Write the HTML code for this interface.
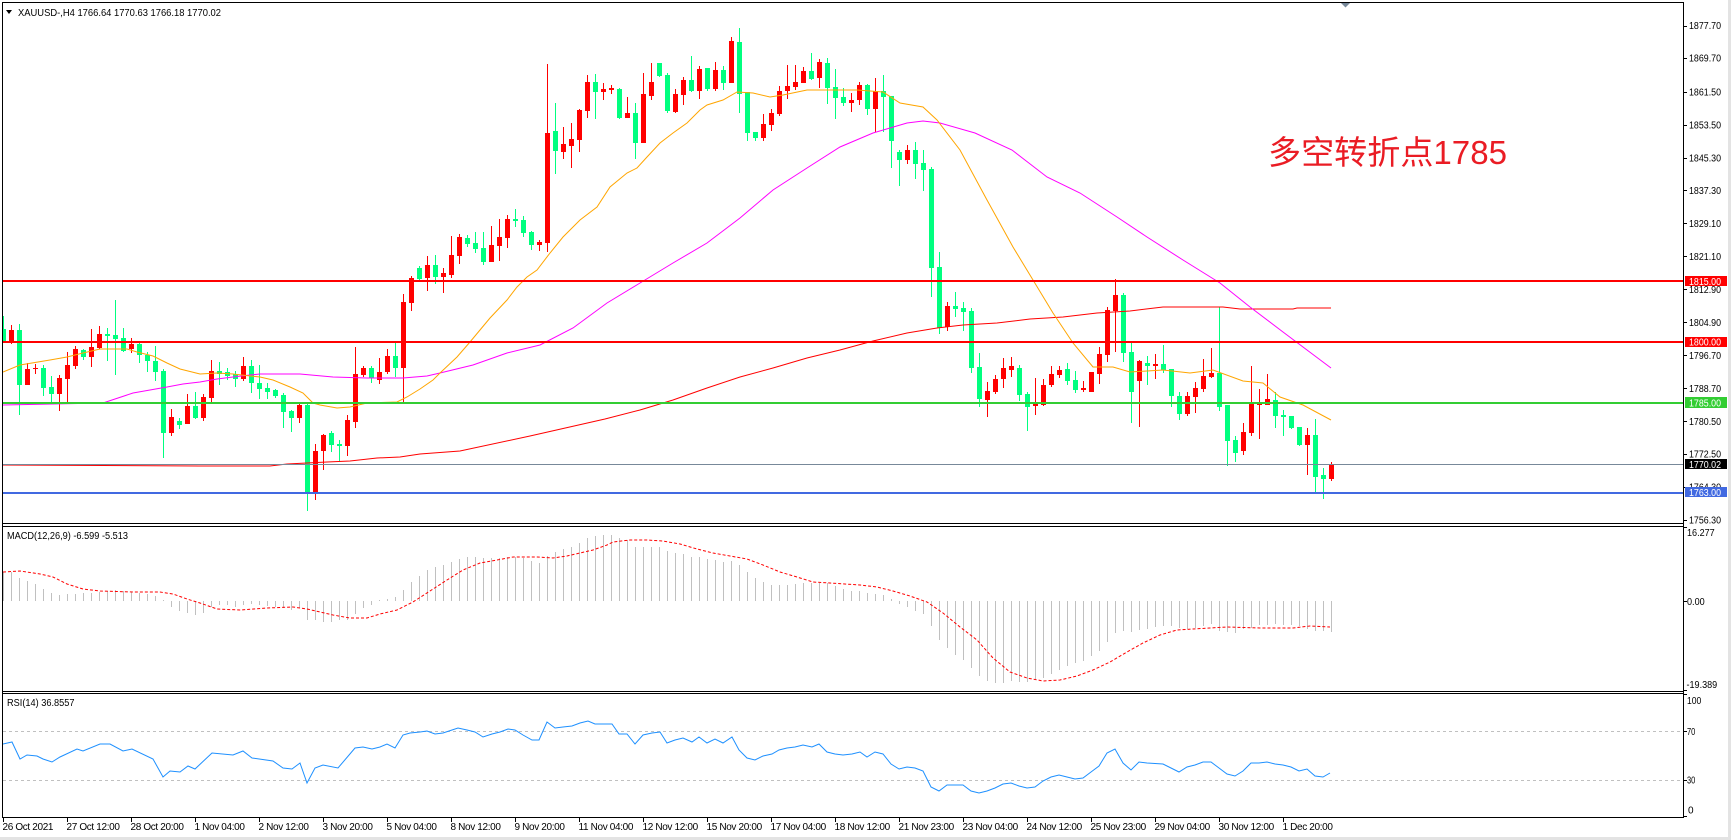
<!DOCTYPE html>
<html><head><meta charset="utf-8"><style>
html,body{margin:0;padding:0;background:#fff;}
svg{display:block;}
text{font-family:"Liberation Sans",sans-serif;}
</style></head><body>
<svg width="1731" height="840" viewBox="0 0 1731 840" xmlns="http://www.w3.org/2000/svg">
<defs>
<clipPath id="cm"><rect x="3" y="3" width="1680" height="520"/></clipPath>
<clipPath id="cd"><rect x="3" y="527" width="1680" height="164"/></clipPath>
<clipPath id="cr"><rect x="3" y="694" width="1680" height="123"/></clipPath>
</defs>
<rect x="0" y="0" width="1731" height="840" fill="#fff"/>
<rect x="0" y="837" width="1731" height="3" fill="#e3e3e3"/>
<rect x="1728" y="0" width="3" height="840" fill="#e3e3e3"/>

<g clip-path="url(#cm)">
<path shape-rendering="crispEdges" fill="#00ff7f" d="M1 329h5v12h-5zM3 316h1v26h-1zM17 330h5v55h-5zM19 324h1v91h-1zM41 368h5v20h-5zM43 365h1v31h-1zM49 387h5v7h-5zM51 376h1v27h-1zM81 350h5v7h-5zM83 349h1v11h-1zM105 334h5v2h-5zM107 328h1v33h-1zM113 335h5v4h-5zM115 300h1v75h-1zM121 338h5v13h-5zM123 328h1v24h-1zM137 344h5v11h-5zM139 343h1v20h-1zM145 355h5v6h-5zM147 352h1v20h-1zM153 361h5v11h-5zM155 346h1v35h-1zM161 371h5v62h-5zM163 369h1v89h-1zM177 421h5v4h-5zM179 418h1v11h-1zM193 406h5v12h-5zM195 392h1v27h-1zM217 371h5v3h-5zM219 362h1v23h-1zM225 372h5v4h-5zM227 368h1v12h-1zM233 374h5v5h-5zM235 371h1v16h-1zM249 366h5v17h-5zM251 360h1v33h-1zM257 383h5v6h-5zM259 365h1v34h-1zM265 388h5v4h-5zM267 383h1v16h-1zM273 390h5v6h-5zM275 389h1v9h-1zM281 395h5v17h-5zM283 393h1v35h-1zM289 411h5v7h-5zM291 410h1v22h-1zM305 405h5v87h-5zM307 402h1v109h-1zM329 433h5v12h-5zM331 431h1v21h-1zM337 444h5v2h-5zM339 440h1v22h-1zM369 368h5v10h-5zM371 366h1v17h-1zM393 356h5v12h-5zM395 343h1v34h-1zM417 268h5v11h-5zM419 266h1v14h-1zM433 265h5v12h-5zM435 255h1v29h-1zM465 238h5v6h-5zM467 235h1v12h-1zM473 243h5v6h-5zM475 232h1v21h-1zM481 248h5v14h-5zM483 232h1v33h-1zM513 219h5v2h-5zM515 209h1v18h-1zM521 220h5v13h-5zM523 216h1v21h-1zM529 232h5v13h-5zM531 231h1v19h-1zM553 131h5v20h-5zM555 103h1v71h-1zM593 82h5v10h-5zM595 74h1v45h-1zM617 89h5v29h-5zM619 88h1v31h-1zM633 113h5v30h-5zM635 103h1v56h-1zM657 63h5v13h-5zM659 63h1v14h-1zM665 75h5v36h-5zM667 73h1v40h-1zM689 80h5v11h-5zM691 56h1v36h-1zM705 68h5v21h-5zM707 68h1v23h-1zM721 70h5v13h-5zM723 66h1v24h-1zM737 42h5v52h-5zM739 28h1v85h-1zM745 92h5v41h-5zM747 92h1v49h-1zM753 132h5v6h-5zM755 132h1v9h-1zM809 71h5v8h-5zM811 53h1v27h-1zM825 63h5v25h-5zM827 58h1v46h-1zM833 87h5v11h-5zM835 69h1v50h-1zM841 97h5v6h-5zM843 88h1v18h-1zM865 85h5v24h-5zM867 84h1v31h-1zM881 91h5v6h-5zM883 75h1v57h-1zM889 96h5v45h-5zM891 96h1v72h-1zM897 152h5v8h-5zM899 150h1v36h-1zM913 150h5v14h-5zM915 142h1v37h-1zM921 163h5v7h-5zM923 150h1v41h-1zM929 169h5v99h-5zM931 167h1v130h-1zM937 267h5v61h-5zM939 252h1v82h-1zM953 306h5v3h-5zM955 292h1v25h-1zM961 308h5v4h-5zM963 302h1v29h-1zM969 311h5v57h-5zM971 308h1v65h-1zM977 367h5v32h-5zM979 353h1v54h-1zM1017 368h5v27h-5zM1019 365h1v36h-1zM1025 394h5v13h-5zM1027 392h1v39h-1zM1065 369h5v12h-5zM1067 363h1v22h-1zM1073 380h5v10h-5zM1075 371h1v22h-1zM1121 295h5v58h-5zM1123 293h1v69h-1zM1129 352h5v40h-5zM1131 343h1v80h-1zM1145 363h5v3h-5zM1147 356h1v29h-1zM1161 364h5v6h-5zM1163 345h1v28h-1zM1169 369h5v27h-5zM1171 369h1v38h-1zM1177 396h5v18h-5zM1179 392h1v28h-1zM1217 373h5v34h-5zM1219 307h1v104h-1zM1225 405h5v36h-5zM1227 405h1v61h-1zM1233 440h5v13h-5zM1235 436h1v26h-1zM1273 400h5v16h-5zM1275 392h1v36h-1zM1281 415h5v2h-5zM1283 410h1v26h-1zM1289 416h5v12h-5zM1291 416h1v13h-1zM1297 427h5v18h-5zM1299 427h1v19h-1zM1313 435h5v42h-5zM1315 419h1v73h-1zM1321 475h5v4h-5zM1323 468h1v31h-1z"/>
<path shape-rendering="crispEdges" fill="#ff0000" d="M9 330h5v13h-5zM11 325h1v19h-1zM25 369h5v16h-5zM27 363h1v22h-1zM33 368h5v1h-5zM35 364h1v10h-1zM57 378h5v16h-5zM59 375h1v36h-1zM65 365h5v14h-5zM67 352h1v52h-1zM73 349h5v17h-5zM75 346h1v23h-1zM89 347h5v10h-5zM91 329h1v38h-1zM97 334h5v14h-5zM99 326h1v23h-1zM129 344h5v5h-5zM131 338h1v15h-1zM169 417h5v16h-5zM171 409h1v27h-1zM185 406h5v18h-5zM187 394h1v30h-1zM201 397h5v21h-5zM203 394h1v27h-1zM209 371h5v27h-5zM211 360h1v42h-1zM241 366h5v13h-5zM243 357h1v24h-1zM297 405h5v13h-5zM299 402h1v21h-1zM313 451h5v41h-5zM315 444h1v56h-1zM321 435h5v16h-5zM323 434h1v36h-1zM345 420h5v26h-5zM347 415h1v41h-1zM353 374h5v48h-5zM355 347h1v81h-1zM361 368h5v7h-5zM363 366h1v11h-1zM377 372h5v8h-5zM379 358h1v26h-1zM385 356h5v16h-5zM387 349h1v25h-1zM401 302h5v66h-5zM403 294h1v108h-1zM409 278h5v25h-5zM411 276h1v35h-1zM425 265h5v13h-5zM427 256h1v35h-1zM441 273h5v4h-5zM443 268h1v25h-1zM449 255h5v20h-5zM451 236h1v42h-1zM457 237h5v19h-5zM459 234h1v30h-1zM489 245h5v17h-5zM491 226h1v36h-1zM497 237h5v9h-5zM499 219h1v42h-1zM505 219h5v19h-5zM507 215h1v33h-1zM537 242h5v3h-5zM539 240h1v11h-1zM545 133h5v110h-5zM547 64h1v188h-1zM561 144h5v8h-5zM563 127h1v32h-1zM569 139h5v7h-5zM571 123h1v45h-1zM577 110h5v30h-5zM579 109h1v43h-1zM585 82h5v29h-5zM587 75h1v43h-1zM601 89h5v3h-5zM603 83h1v17h-1zM609 88h5v2h-5zM611 85h1v9h-1zM625 113h5v5h-5zM627 97h1v21h-1zM641 94h5v49h-5zM643 73h1v70h-1zM649 82h5v14h-5zM651 63h1v37h-1zM673 94h5v18h-5zM675 89h1v24h-1zM681 80h5v15h-5zM683 77h1v28h-1zM697 69h5v22h-5zM699 66h1v33h-1zM713 70h5v19h-5zM715 62h1v29h-1zM729 41h5v42h-5zM731 37h1v46h-1zM761 124h5v14h-5zM763 114h1v27h-1zM769 113h5v12h-5zM771 109h1v22h-1zM777 91h5v23h-5zM779 86h1v30h-1zM785 86h5v5h-5zM787 65h1v34h-1zM793 82h5v5h-5zM795 65h1v25h-1zM801 71h5v12h-5zM803 67h1v16h-1zM817 62h5v16h-5zM819 59h1v29h-1zM849 100h5v3h-5zM851 93h1v19h-1zM857 85h5v15h-5zM859 82h1v23h-1zM873 91h5v18h-5zM875 78h1v54h-1zM905 150h5v10h-5zM907 145h1v19h-1zM945 306h5v21h-5zM947 302h1v29h-1zM985 391h5v9h-5zM987 382h1v35h-1zM993 379h5v13h-5zM995 375h1v19h-1zM1001 368h5v11h-5zM1003 358h1v30h-1zM1009 366h5v4h-5zM1011 357h1v20h-1zM1033 404h5v2h-5zM1035 378h1v37h-1zM1041 385h5v20h-5zM1043 379h1v27h-1zM1049 374h5v11h-5zM1051 366h1v21h-1zM1057 370h5v5h-5zM1059 366h1v12h-1zM1081 388h5v2h-5zM1083 381h1v11h-1zM1089 372h5v20h-5zM1091 372h1v20h-1zM1097 354h5v20h-5zM1099 347h1v37h-1zM1105 310h5v45h-5zM1107 307h1v55h-1zM1113 295h5v16h-5zM1115 279h1v73h-1zM1137 361h5v20h-5zM1139 360h1v67h-1zM1153 364h5v2h-5zM1155 354h1v25h-1zM1185 396h5v18h-5zM1187 392h1v24h-1zM1193 388h5v9h-5zM1195 382h1v31h-1zM1201 376h5v13h-5zM1203 359h1v33h-1zM1209 373h5v4h-5zM1211 348h1v30h-1zM1241 432h5v19h-5zM1243 423h1v32h-1zM1249 404h5v29h-5zM1251 366h1v70h-1zM1257 404h5v1h-5zM1259 389h1v50h-1zM1265 399h5v6h-5zM1267 374h1v31h-1zM1305 435h5v10h-5zM1307 428h1v47h-1zM1329 464h5v15h-5zM1331 462h1v19h-1z"/>

<polyline fill="none" stroke="#ff0000" stroke-width="1" points="2,465 200,466 270,466 287,464 327,462 350,461 377,458 400,457 420,454 460,451 530,436 605,419 640,410 673,400 707,388 740,377 773,368 807,358 840,350 873,341 907,333 937,328 963,325 997,323 1030,319 1063,317 1097,313 1130,311 1163,307 1223,307 1240,309 1293,309 1297,308 1331,308"/>
<polyline fill="none" stroke="#ff00ff" stroke-width="1" points="2,405 103,403 133,393 150,390 167,387 183,384 200,382 217,379 233,377 250,375 260,374 300,374 333,377 367,378 403,378 427,376 440,373 473,365 507,353 540,345 573,328 607,303 640,283 673,263 707,243 740,218 773,190 807,168 840,147 873,133 907,123 923,121 940,123 975,133 1012,150 1047,177 1080,193 1117,217 1147,237 1183,260 1220,283 1250,307 1283,332 1331,368"/>
<polyline fill="none" stroke="#ffa500" stroke-width="1" points="3,372 20,365 50,360 67,357 83,353 100,349 127,349 137,352 153,356 167,363 180,369 200,374 217,373 233,374 260,377 273,380 290,387 303,393 313,403 320,405 337,408 350,407 367,403 397,402 407,397 420,389 433,380 440,373 457,357 470,342 480,330 490,318 507,300 517,287 527,277 537,270 550,253 563,237 580,220 597,207 610,187 627,173 637,168 647,157 660,143 673,133 687,123 700,110 707,105 723,100 737,92 753,93 770,97 783,95 807,90 857,90 883,92 900,103 923,107 937,120 960,150 987,200 1013,247 1033,280 1053,313 1073,343 1093,367 1113,367 1130,372 1163,370 1190,373 1213,370 1243,381 1263,383 1280,397 1303,405 1331,420"/>

<g shape-rendering="crispEdges">
<rect x="2" y="280" width="1682" height="2" fill="#ff0000"/>
<rect x="2" y="341" width="1682" height="2" fill="#ff0000"/>
<rect x="2" y="402" width="1682" height="2" fill="#32cd32"/>
<rect x="2" y="464" width="1682" height="1" fill="#778899"/>
<rect x="2" y="492" width="1682" height="2" fill="#4169e1"/>
</g>
</g>

<text x="1268" y="164" font-size="33" fill="#ea1c24" textLength="239" lengthAdjust="spacingAndGlyphs" style="font-family:'Liberation Sans','Noto Sans CJK SC',sans-serif">多空转折点1785</text>

<polygon points="6,10 12,10 9,14" fill="#000"/>
<text x="18" y="16" font-size="10.5" fill="#000" textLength="203" lengthAdjust="spacingAndGlyphs">XAUUSD-,H4  1766.64 1770.63 1766.18 1770.02</text>
<polygon points="1341,3 1350,3 1345.5,7.5" fill="#778899"/>

<!-- MACD -->
<g clip-path="url(#cd)">
<path fill="none" stroke="#c0c0c0" stroke-width="1" shape-rendering="crispEdges" d="M3.5 572V601M11.5 572V601M19.5 578V601M27.5 581V601M35.5 584V601M43.5 589V601M51.5 593V601M59.5 595V601M67.5 594V601M75.5 594V601M83.5 593V601M91.5 593V601M99.5 592V601M107.5 591V601M115.5 590V601M123.5 591V601M131.5 592V601M139.5 593V601M147.5 594V601M155.5 596V601M163.5 600V601M171.5 607V601M179.5 611V601M187.5 613V601M195.5 615V601M203.5 613V601M211.5 607V601M219.5 605V601M227.5 605V601M235.5 607V601M243.5 605V601M251.5 604V601M259.5 605V601M267.5 606V601M275.5 607V601M283.5 608V601M291.5 610V601M299.5 608V601M307.5 620V601M315.5 620V601M323.5 622V601M331.5 622V601M339.5 620V601M347.5 620V601M355.5 614V601M363.5 608V601M371.5 605V601M379.5 600V601M387.5 599V601M395.5 597V601M403.5 590V601M411.5 582V601M419.5 576V601M427.5 570V601M435.5 567V601M443.5 565V601M451.5 562V601M459.5 559V601M467.5 557V601M475.5 557V601M483.5 558V601M491.5 558V601M499.5 558V601M507.5 557V601M515.5 557V601M523.5 558V601M531.5 561V601M539.5 563V601M547.5 556V601M555.5 552V601M563.5 549V601M571.5 547V601M579.5 543V601M587.5 538V601M595.5 536V601M603.5 535V601M611.5 535V601M619.5 538V601M627.5 540V601M635.5 547V601M643.5 547V601M651.5 547V601M659.5 547V601M667.5 551V601M675.5 553V601M683.5 554V601M691.5 557V601M699.5 557V601M707.5 559V601M715.5 560V601M723.5 562V601M731.5 561V601M739.5 565V601M747.5 572V601M755.5 578V601M763.5 582V601M771.5 585V601M779.5 585V601M787.5 585V601M795.5 584V601M803.5 583V601M811.5 583V601M819.5 583V601M827.5 583V601M835.5 586V601M843.5 589V601M851.5 591V601M859.5 591V601M867.5 593V601M875.5 594V601M883.5 595V601M891.5 599V601M899.5 604V601M907.5 607V601M915.5 611V601M923.5 614V601M931.5 626V601M939.5 640V601M947.5 648V601M955.5 655V601M963.5 660V601M971.5 668V601M979.5 676V601M987.5 681V601M995.5 683V601M1003.5 683V601M1011.5 681V601M1019.5 682V601M1027.5 682V601M1035.5 680V601M1043.5 678V601M1051.5 674V601M1059.5 670V601M1067.5 666V601M1075.5 663V601M1083.5 661V601M1091.5 656V601M1099.5 651V601M1107.5 642V601M1115.5 633V601M1123.5 631V601M1131.5 632V601M1139.5 630V601M1147.5 629V601M1155.5 627V601M1163.5 626V601M1171.5 626V601M1179.5 628V601M1187.5 629V601M1195.5 628V601M1203.5 626V601M1211.5 624V601M1219.5 631V601M1227.5 632V601M1235.5 633V601M1243.5 629V601M1251.5 628V601M1259.5 625V601M1267.5 625V601M1275.5 624V601M1283.5 625V601M1291.5 625V601M1299.5 626V601M1307.5 629V601M1315.5 631V601M1323.5 631V601M1331.5 632V601"/>
<polyline fill="none" stroke="#ff0000" stroke-width="1" stroke-dasharray="3,2" points="3,572 20,571 40,574 53,577 67,584 83,589 100,591 133,592 160,592 173,594 187,599 200,603 217,609 240,610 267,608 293,607 307,609 320,612 333,615 350,618 367,618 380,614 397,610 413,602 430,591 447,580 463,570 480,563 497,560 513,557 537,557 553,558 567,556 580,553 593,550 607,545 613,542 630,540 647,540 663,541 680,544 697,549 713,553 730,556 747,559 763,565 780,572 797,577 813,582 830,583 860,585 877,587 893,591 910,596 927,602 943,613 960,627 977,640 993,658 1010,672 1027,678 1043,681 1060,680 1077,676 1093,670 1110,662 1127,652 1143,643 1160,635 1177,630 1193,629 1210,628 1227,627 1260,628 1293,628 1310,626 1330,627"/>
</g>
<text x="7" y="539" font-size="10" fill="#000" textLength="121" lengthAdjust="spacingAndGlyphs">MACD(12,26,9) -6.599 -5.513</text>

<!-- RSI -->
<g clip-path="url(#cr)">
<line x1="3" y1="731.5" x2="1683" y2="731.5" stroke="#c0c0c0" stroke-width="1" stroke-dasharray="3,3"/>
<line x1="3" y1="780.5" x2="1683" y2="780.5" stroke="#c0c0c0" stroke-width="1" stroke-dasharray="3,3"/>
<polyline fill="none" stroke="#1e90ff" stroke-width="1" points="3,744 12,742 20,759 27,755 37,756 43,759 52,762 60,757 77,749 83,751 100,744 110,744 123,751 132,749 153,759 163,777 170,771 180,772 188,766 195,769 212,753 233,755 243,751 252,758 273,761 283,768 292,769 300,763 307,783 315,768 323,765 338,768 355,748 363,747 372,749 380,747 387,744 395,748 403,735 410,733 420,732 427,731 435,734 443,733 452,730 458,728 467,730 475,732 483,737 492,734 500,732 508,729 515,730 523,735 532,740 539,740 547,722 555,728 563,727 572,726 580,723 588,721 595,724 612,724 619,734 627,734 635,744 643,735 652,733 660,732 667,743 675,740 683,738 692,742 699,737 707,743 715,739 723,743 732,737 739,750 747,758 755,760 763,756 772,754 779,750 787,748 795,747 803,745 812,747 819,744 827,752 835,754 843,755 852,754 860,752 867,757 875,752 883,754 891,764 899,769 907,767 915,768 923,771 931,787 939,791 947,785 963,785 971,791 979,793 987,791 995,788 1003,784 1011,783 1019,786 1027,788 1035,787 1043,781 1051,777 1059,775 1067,777 1075,779 1083,778 1091,772 1099,766 1107,753 1115,749 1123,763 1131,770 1139,762 1147,763 1163,764 1171,768 1179,772 1187,767 1195,765 1203,762 1211,762 1219,768 1227,774 1235,776 1243,771 1251,763 1259,763 1267,762 1275,764 1283,765 1291,767 1299,771 1307,769 1315,776 1323,777 1330,773"/>
</g>
<text x="7" y="706" font-size="10" fill="#000" textLength="67.5" lengthAdjust="spacingAndGlyphs">RSI(14) 36.8557</text>

<!-- frames -->
<g fill="#000" shape-rendering="crispEdges">
<rect x="2" y="2" width="1682" height="1"/>
<rect x="2" y="2" width="1" height="816"/>
<rect x="1683" y="2" width="1" height="816"/>
<rect x="2" y="523" width="1682" height="1"/>
<rect x="2" y="526" width="1682" height="1"/>
<rect x="2" y="691" width="1682" height="1"/>
<rect x="2" y="693" width="1682" height="1"/>
<rect x="2" y="817" width="1682" height="1"/>
<!-- price ticks -->
<rect x="1684" y="26" width="3" height="1"/><rect x="1684" y="58" width="3" height="1"/><rect x="1684" y="92" width="3" height="1"/><rect x="1684" y="125" width="3" height="1"/><rect x="1684" y="158" width="3" height="1"/><rect x="1684" y="190" width="3" height="1"/><rect x="1684" y="223" width="3" height="1"/><rect x="1684" y="256" width="3" height="1"/><rect x="1684" y="289" width="3" height="1"/><rect x="1684" y="322" width="3" height="1"/><rect x="1684" y="355" width="3" height="1"/><rect x="1684" y="388" width="3" height="1"/><rect x="1684" y="421" width="3" height="1"/><rect x="1684" y="454" width="3" height="1"/><rect x="1684" y="487" width="3" height="1"/><rect x="1684" y="520" width="3" height="1"/>
<rect x="1684" y="527" width="3" height="1"/><rect x="1684" y="601" width="3" height="1"/><rect x="1684" y="690" width="3" height="1"/>
<rect x="1684" y="694" width="3" height="1"/><rect x="1684" y="731" width="3" height="1"/><rect x="1684" y="780" width="3" height="1"/><rect x="1684" y="816" width="3" height="1"/>
<!-- time ticks -->
<rect x="3" y="818" width="1" height="4"/><rect x="67" y="818" width="1" height="4"/><rect x="131" y="818" width="1" height="4"/><rect x="195" y="818" width="1" height="4"/><rect x="259" y="818" width="1" height="4"/><rect x="323" y="818" width="1" height="4"/><rect x="387" y="818" width="1" height="4"/><rect x="451" y="818" width="1" height="4"/><rect x="515" y="818" width="1" height="4"/><rect x="579" y="818" width="1" height="4"/><rect x="643" y="818" width="1" height="4"/><rect x="707" y="818" width="1" height="4"/><rect x="771" y="818" width="1" height="4"/><rect x="835" y="818" width="1" height="4"/><rect x="899" y="818" width="1" height="4"/><rect x="963" y="818" width="1" height="4"/><rect x="1027" y="818" width="1" height="4"/><rect x="1091" y="818" width="1" height="4"/><rect x="1155" y="818" width="1" height="4"/><rect x="1219" y="818" width="1" height="4"/><rect x="1283" y="818" width="1" height="4"/>
</g>

<!-- price axis labels -->
<g font-size="10" fill="#000">
<text x="1689" y="29.2" textLength="32" lengthAdjust="spacingAndGlyphs">1877.70</text>
<text x="1689" y="61.6" textLength="32" lengthAdjust="spacingAndGlyphs">1869.70</text>
<text x="1689" y="95.3" textLength="32" lengthAdjust="spacingAndGlyphs">1861.50</text>
<text x="1689" y="128.6" textLength="32" lengthAdjust="spacingAndGlyphs">1853.50</text>
<text x="1689" y="161.3" textLength="32" lengthAdjust="spacingAndGlyphs">1845.30</text>
<text x="1689" y="193.9" textLength="32" lengthAdjust="spacingAndGlyphs">1837.30</text>
<text x="1689" y="226.9" textLength="32" lengthAdjust="spacingAndGlyphs">1829.10</text>
<text x="1689" y="259.9" textLength="32" lengthAdjust="spacingAndGlyphs">1821.10</text>
<text x="1689" y="292.9" textLength="32" lengthAdjust="spacingAndGlyphs">1812.90</text>
<text x="1689" y="325.9" textLength="32" lengthAdjust="spacingAndGlyphs">1804.90</text>
<text x="1689" y="358.9" textLength="32" lengthAdjust="spacingAndGlyphs">1796.70</text>
<text x="1689" y="391.9" textLength="32" lengthAdjust="spacingAndGlyphs">1788.70</text>
<text x="1689" y="424.9" textLength="32" lengthAdjust="spacingAndGlyphs">1780.50</text>
<text x="1689" y="457.6" textLength="32" lengthAdjust="spacingAndGlyphs">1772.50</text>
<text x="1689" y="490.3" textLength="32" lengthAdjust="spacingAndGlyphs">1764.30</text>
<text x="1689" y="523.6" textLength="32" lengthAdjust="spacingAndGlyphs">1756.30</text>
<text x="1687" y="536" textLength="27.7" lengthAdjust="spacingAndGlyphs">16.277</text>
<text x="1687" y="605" textLength="17.7" lengthAdjust="spacingAndGlyphs">0.00</text>
<text x="1686.5" y="688" textLength="30.7" lengthAdjust="spacingAndGlyphs">-19.389</text>
<text x="1687" y="704" textLength="14.3" lengthAdjust="spacingAndGlyphs">100</text>
<text x="1687" y="735" textLength="8.3" lengthAdjust="spacingAndGlyphs">70</text>
<text x="1687" y="783.5" textLength="8.3" lengthAdjust="spacingAndGlyphs">30</text>
<text x="1688" y="813.5">0</text>
</g>

<!-- price boxes -->
<g shape-rendering="crispEdges">
<rect x="1685" y="276" width="42" height="10" fill="#ff0000"/>
<rect x="1685" y="337" width="42" height="10" fill="#ff0000"/>
<rect x="1685" y="397" width="42" height="11" fill="#32cd32"/>
<rect x="1685" y="459" width="42" height="10" fill="#000"/>
<rect x="1685" y="487" width="42" height="10" fill="#4169e1"/>
</g>
<g font-size="10" fill="#fff">
<text x="1689" y="284.8" textLength="32" lengthAdjust="spacingAndGlyphs">1815.00</text>
<text x="1689" y="345.6" textLength="32" lengthAdjust="spacingAndGlyphs">1800.00</text>
<text x="1689" y="406.3" textLength="32" lengthAdjust="spacingAndGlyphs">1785.00</text>
<text x="1689" y="467.8" textLength="32" lengthAdjust="spacingAndGlyphs">1770.02</text>
<text x="1689" y="495.9" textLength="32" lengthAdjust="spacingAndGlyphs">1763.00</text>
</g>

<!-- time labels -->
<g font-size="10" fill="#000" letter-spacing="-0.35">
<text x="2.5" y="830">26 Oct 2021</text>
<text x="66.5" y="830">27 Oct 12:00</text>
<text x="130.5" y="830">28 Oct 20:00</text>
<text x="194.5" y="830">1 Nov 04:00</text>
<text x="258.5" y="830">2 Nov 12:00</text>
<text x="322.5" y="830">3 Nov 20:00</text>
<text x="386.5" y="830">5 Nov 04:00</text>
<text x="450.5" y="830">8 Nov 12:00</text>
<text x="514.5" y="830">9 Nov 20:00</text>
<text x="578.5" y="830">11 Nov 04:00</text>
<text x="642.5" y="830">12 Nov 12:00</text>
<text x="706.5" y="830">15 Nov 20:00</text>
<text x="770.5" y="830">17 Nov 04:00</text>
<text x="834.5" y="830">18 Nov 12:00</text>
<text x="898.5" y="830">21 Nov 23:00</text>
<text x="962.5" y="830">23 Nov 04:00</text>
<text x="1026.5" y="830">24 Nov 12:00</text>
<text x="1090.5" y="830">25 Nov 23:00</text>
<text x="1154.5" y="830">29 Nov 04:00</text>
<text x="1218.5" y="830">30 Nov 12:00</text>
<text x="1282.5" y="830">1 Dec 20:00</text>
</g>
</svg>
</body></html>
